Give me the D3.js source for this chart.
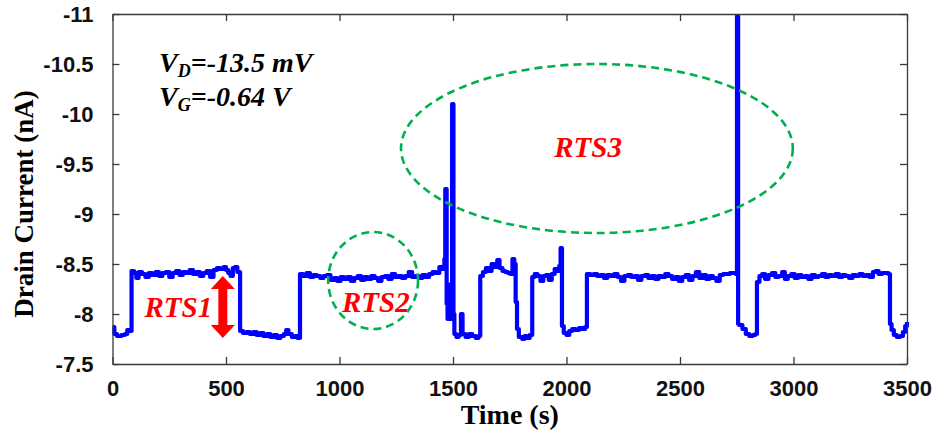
<!DOCTYPE html>
<html>
<head>
<meta charset="utf-8">
<script src="https://cdn.jsdelivr.net/npm/d3@7"></script>
<style>
  html, body { margin: 0; padding: 0; background: #fff; }
  svg { display: block; }
</style>
</head>
<body>
<svg id="chart" width="937" height="439"></svg>
<script>
// Drain current trace (time in s, current in nA)
const time = [
  0, 8, 20, 40, 55, 65, 75,
  84, 95, 105, 115, 130, 145, 160, 175, 190, 205, 220, 235, 250, 265, 280, 295, 310, 325, 340, 355, 370, 385, 400, 415, 430, 445, 460, 475, 490, 500, 510, 520, 530, 540, 550,
  562, 575, 590, 605, 620, 635, 650, 665, 680, 695, 710, 725, 740, 755, 765, 775, 790, 805, 815,
  826, 840, 855, 870, 885, 900, 915, 930, 945, 960, 975, 990, 1005, 1020, 1035, 1050, 1065, 1080, 1095, 1110, 1125, 1140, 1155, 1170, 1185, 1200, 1215, 1230, 1245, 1260, 1275, 1290, 1305, 1320, 1335, 1350, 1365, 1380, 1395, 1410, 1425, 1440, 1452,
  1462, 1466, 1472, 1476, 1490, 1496, 1502, 1506, 1515, 1525, 1535, 1542, 1555, 1570, 1585, 1600, 1612,
  1620, 1632, 1645, 1658, 1670, 1682, 1695, 1705, 1718, 1730, 1742, 1752, 1762, 1770, 1776,
  1782, 1790, 1805, 1815, 1825, 1838,
  1849, 1860, 1872, 1885, 1898, 1910, 1922, 1935, 1948, 1960, 1968, 1974,
  1980, 1988, 2000, 2012, 2025, 2040, 2055, 2070, 2082,
  2090, 2105, 2120, 2135, 2150, 2165, 2180, 2195, 2210, 2225, 2240, 2255, 2270, 2285, 2300, 2315, 2330, 2345, 2360, 2375, 2390, 2405, 2420, 2435, 2450, 2465, 2480, 2495, 2510, 2525, 2540, 2555, 2570, 2585, 2600, 2615, 2630, 2645, 2660, 2675, 2690, 2705, 2720, 2735, 2745,
  2751, 2756,
  2760, 2775, 2790, 2805, 2820, 2832,
  2839, 2850, 2862, 2875, 2890, 2905, 2920, 2935, 2950, 2962, 2975, 2990, 3005, 3020, 3035, 3050, 3065, 3080, 3095, 3110, 3125, 3140, 3155, 3170, 3185, 3200, 3215, 3230, 3245, 3260, 3275, 3290, 3305, 3320, 3335, 3350, 3362, 3375, 3390, 3405, 3418,
  3425, 3432, 3442, 3455, 3470, 3482, 3492, 3500
];
const current = [
  -7.87, -7.80, -7.78, -7.79, -7.80, -7.84, -7.83,
  -8.43, -8.41, -8.36, -8.42, -8.40, -8.37, -8.41, -8.39, -8.42, -8.38, -8.41, -8.42, -8.37, -8.41, -8.43, -8.39, -8.42, -8.41, -8.44, -8.40, -8.42, -8.38, -8.41, -8.43, -8.37, -8.44, -8.46, -8.45, -8.47, -8.44, -8.41, -8.38, -8.46, -8.47, -8.42,
  -7.83, -7.81, -7.82, -7.80, -7.82, -7.79, -7.81, -7.78, -7.80, -7.77, -7.79, -7.76, -7.78, -7.80, -7.84, -7.80, -7.77, -7.78, -7.76,
  -8.40, -8.38, -8.41, -8.37, -8.39, -8.38, -8.36, -8.38, -8.39, -8.34, -8.36, -8.33, -8.37, -8.35, -8.37, -8.33, -8.36, -8.38, -8.34, -8.37, -8.35, -8.38, -8.36, -8.33, -8.37, -8.38, -8.35, -8.40, -8.37, -8.38, -8.36, -8.38, -8.42, -8.37, -8.38, -8.36, -8.39, -8.37, -8.40, -8.42, -8.41, -8.47, -8.45,
  -8.55, -9.25, -8.10, -7.95, -8.30, -10.10, -8.00, -7.80, -7.77, -7.79, -8.00, -7.80, -7.77, -7.80, -7.78, -7.76, -7.78,
  -8.38, -8.42, -8.46, -8.43, -8.50, -8.47, -8.54, -8.46, -8.43, -8.42, -8.41, -8.40, -8.55, -8.50, -8.12,
  -7.85, -7.77, -7.75, -7.78, -7.76, -7.79,
  -8.37, -8.40, -8.38, -8.33, -8.38, -8.39, -8.34, -8.40, -8.45, -8.43, -8.48, -8.66,
  -7.88, -7.81, -7.79, -7.83, -7.85, -7.84, -7.86, -7.85, -7.87,
  -8.40, -8.39, -8.40, -8.38, -8.39, -8.36, -8.39, -8.38, -8.40, -8.37, -8.33, -8.38, -8.39, -8.37, -8.38, -8.34, -8.38, -8.39, -8.36, -8.38, -8.35, -8.38, -8.37, -8.40, -8.38, -8.35, -8.37, -8.33, -8.37, -8.39, -8.34, -8.38, -8.42, -8.36, -8.39, -8.35, -8.38, -8.36, -8.33, -8.39, -8.40, -8.40, -8.41, -8.41, -8.40,
  -10.98, -7.90,
  -7.89, -7.85, -7.80, -7.78, -7.79, -7.80,
  -8.32, -8.38, -8.40, -8.35, -8.39, -8.41, -8.37, -8.38, -8.42, -8.35, -8.38, -8.40, -8.36, -8.39, -8.37, -8.38, -8.35, -8.39, -8.37, -8.38, -8.40, -8.37, -8.39, -8.38, -8.40, -8.37, -8.39, -8.38, -8.36, -8.39, -8.38, -8.40, -8.38, -8.39, -8.37, -8.42, -8.43, -8.40, -8.41, -8.41, -8.40,
  -7.90, -7.84, -7.79, -7.77, -7.78, -7.82, -7.88, -7.92
];

const xTicks = [0, 500, 1000, 1500, 2000, 2500, 3000, 3500];
const yTicks = [-7.5, -8, -8.5, -9, -9.5, -10, -10.5, -11];
const yTickLabels = ["-7.5", "-8", "-8.5", "-9", "-9.5", "-10", "-10.5", "-11"];

const svg = d3.select("#chart");
const margin = { left: 112.5, right: 30, top: 14, bottom: 75 };
const W = 937, H = 439;
const x = d3.scaleLinear().domain([0, 3500]).range([margin.left, W - margin.right]);
const y = d3.scaleLinear().domain([-7.5, -11]).range([H - margin.bottom, margin.top]);

const axisColor = "#3a3a3a";
const tickLen = 7;
const serif = "'Liberation Serif', 'Times New Roman', serif";

// Trace
const points = time.map((t, i) => [t, current[i]]);
const line = d3.line()
  .x(d => x(d[0]))
  .y(d => y(d[1]))
  .curve(d3.curveStepAfter);

svg.append("path")
  .datum(points)
  .attr("fill", "none")
  .attr("stroke", "#0000ff")
  .attr("stroke-width", 4.2)
  .attr("stroke-linejoin", "round")
  .attr("d", line);

// Axes (ticks pointing inward, boxed)
const fmtY = d => yTickLabels[yTicks.indexOf(d)];
const bottomAxis = d3.axisBottom(x).tickValues(xTicks).tickSizeInner(-tickLen).tickSizeOuter(0).tickPadding(16).tickFormat(d => String(d));
const topAxis = d3.axisTop(x).tickValues(xTicks).tickSizeInner(-tickLen).tickSizeOuter(0).tickFormat("");
const leftAxis = d3.axisLeft(y).tickValues(yTicks).tickSizeInner(-tickLen).tickSizeOuter(0).tickPadding(19).tickFormat(fmtY);
const rightAxis = d3.axisRight(y).tickValues(yTicks).tickSizeInner(-tickLen).tickSizeOuter(0).tickFormat("");

function styleAxis(g) {
  g.select(".domain").attr("stroke", axisColor).attr("stroke-width", 1.3);
  g.selectAll(".tick line").attr("stroke", axisColor).attr("stroke-width", 1.3);
  g.selectAll(".tick text")
    .attr("fill", "#111")
    .attr("font-family", "'Liberation Sans', Arial, sans-serif")
    .attr("font-weight", "bold")
    .attr("font-size", 22);
}

svg.append("g").attr("transform", `translate(0,${y(-7.5)})`).call(bottomAxis).call(styleAxis);
svg.append("g").attr("transform", `translate(0,${y(-11)})`).call(topAxis).call(styleAxis);
svg.append("g").attr("transform", `translate(${x(0)},0)`).call(leftAxis).call(styleAxis);
svg.append("g").attr("transform", `translate(${x(3500)},0)`).call(rightAxis).call(styleAxis);

// Axis titles
svg.append("text")
  .attr("x", (x(0) + x(3500)) / 2)
  .attr("y", 424)
  .attr("text-anchor", "middle")
  .attr("font-family", serif)
  .attr("font-weight", "bold")
  .attr("font-size", 28)
  .attr("fill", "#000")
  .text("Time (s)");

svg.append("text")
  .attr("transform", `translate(33,${(y(-7.5) + y(-11)) / 2 + 15}) rotate(-90)`)
  .attr("text-anchor", "middle")
  .attr("font-family", serif)
  .attr("font-weight", "bold")
  .attr("font-size", 27)
  .attr("fill", "#000")
  .text("Drain Current (nA)");

// Bias conditions
function biasLabel(yPos, sub, rest) {
  const t = svg.append("text")
    .attr("x", 159).attr("y", yPos)
    .attr("font-family", serif)
    .attr("font-weight", "bold")
    .attr("font-style", "italic")
    .attr("font-size", 28)
    .attr("fill", "#000");
  t.append("tspan").text("V");
  t.append("tspan").attr("font-size", 18).attr("dy", 5).text(sub);
  t.append("tspan").attr("dy", -5).text(rest);
}
biasLabel(y(-10.42), "D", "=-13.5 mV");
biasLabel(y(-10.08), "G", "=-0.64 V");

// Noise region markers
const green = "#00b050";
function ellipse(cx, cy, rxS, ryN) {
  svg.append("ellipse")
    .attr("cx", x(cx)).attr("cy", y(cy))
    .attr("rx", x(rxS) - x(0)).attr("ry", y(-7.5) - y(-7.5 - ryN))
    .attr("fill", "none")
    .attr("stroke", green)
    .attr("stroke-width", 2.6)
    .attr("stroke-dasharray", "8,5");
}
ellipse(1148, -8.335, 198, 0.485);
ellipse(2134, -9.655, 863, 0.845);

function rtsLabel(tx, v, label) {
  svg.append("text")
    .attr("x", x(tx)).attr("y", y(v))
    .attr("text-anchor", "middle")
    .attr("font-family", serif)
    .attr("font-weight", "bold")
    .attr("font-style", "italic")
    .attr("font-size", 29)
    .attr("fill", "#ff0000")
    .text(label);
}
rtsLabel(290, -7.97, "RTS1");
rtsLabel(1160, -8.02, "RTS2");
rtsLabel(2095, -9.57, "RTS3");

// RTS1 amplitude arrow (double-headed)
const ax = x(486), aTop = y(-8.38), aBot = y(-7.76);
const headW = 12, headH = 13, shaftW = 4.5;
const arrowPath = [
  [ax, aTop], [ax + headW, aTop + headH], [ax + shaftW, aTop + headH],
  [ax + shaftW, aBot - headH], [ax + headW, aBot - headH], [ax, aBot],
  [ax - headW, aBot - headH], [ax - shaftW, aBot - headH],
  [ax - shaftW, aTop + headH], [ax - headW, aTop + headH]
];
svg.append("path")
  .attr("d", d3.line()(arrowPath) + "Z")
  .attr("fill", "#ff0000");
</script>
</body>
</html>
